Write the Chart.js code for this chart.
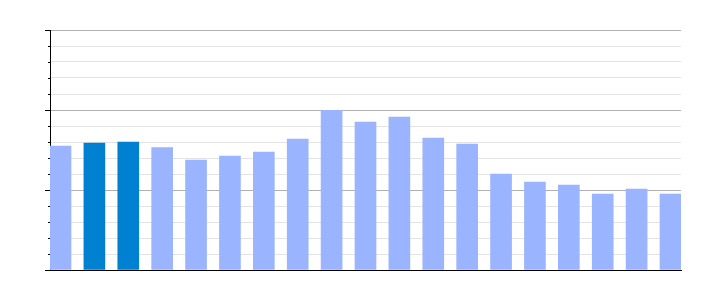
<!DOCTYPE html>
<html>
<head>
<meta charset="utf-8">
<script src="https://cdn.jsdelivr.net/npm/chart.js@4"></script>
<style>
  html, body { margin: 0; padding: 0; background: #fff; }
  #wrap { width: 710px; height: 300px; }
</style>
</head>
<body>
<div id="wrap"><canvas id="chart" width="710" height="300"></canvas></div>
<script>
// bar values (one per position, left to right)
const positions = [0, 1, 2, 3, 4, 5, 6, 7, 8, 9, 10, 11, 12, 13, 14, 15, 16, 17, 18];
const values = [7.75, 7.94, 8.0, 7.65, 6.875, 7.125, 7.375, 8.19, 9.98, 9.25, 9.56, 8.25, 7.875, 6.0, 5.5, 5.31, 4.75, 5.06, 4.75];
const highlighted = [1, 2];
const yMin = 0, yMax = 15, yStep = 1, majorEvery = 5;

const barWidth = 21;
const spacing = (631 - barWidth) / (positions.length - 1);
const edge = barWidth / 2 / spacing;

// left axis tick marks: long on major, short on minor
const tickMarks = {
    id: 'tickMarks',
    afterDraw(chart) {
        const y = chart.scales.y;
        const ctx = chart.ctx;
        const left = chart.chartArea.left;
        ctx.save();
        ctx.strokeStyle = '#000';
        ctx.lineWidth = 1;
        y.ticks.forEach(t => {
            const py = Math.round(y.getPixelForValue(t.value)) + 0.5;
            const len = t.value % majorEvery === 0 ? 5 : 2;
            ctx.beginPath();
            ctx.moveTo(left - len, py);
            ctx.lineTo(left, py);
            ctx.stroke();
        });
        ctx.restore();
    }
};

new Chart(document.getElementById('chart'), {
    type: 'bar',
    data: {
        datasets: [{
            data: positions.map((p, i) => ({x: p, y: values[i]})),
            backgroundColor: c => highlighted.includes(c.dataIndex) ? '#0080d0' : '#9ab4ff',
            barThickness: barWidth,
            borderWidth: 0
        }]
    },
    options: {
        responsive: false,
        animation: false,
        layout: {padding: {left: 50, right: 29, top: 30, bottom: 30}},
        plugins: {legend: {display: false}, tooltip: {enabled: false}},
        scales: {
            x: {
                type: 'linear',
                offset: false,
                min: -edge,
                max: positions.length - 1 + edge,
                grid: {display: false, drawTicks: false, offset: false},
                ticks: {display: false},
                border: {display: true, color: '#000', width: 1},
                afterFit: s => { s.height = 0; }
            },
            y: {
                min: yMin,
                max: yMax,
                ticks: {display: false, stepSize: yStep},
                grid: {
                    drawTicks: false,
                    color: c => c.tick && c.tick.value % majorEvery === 0 ? '#b0b0b0' : '#e3e3e3'
                },
                border: {display: true, color: '#000', width: 1},
                afterFit: s => { s.width = 0; }
            }
        }
    },
    plugins: [tickMarks]
});
</script>
</body>
</html>
